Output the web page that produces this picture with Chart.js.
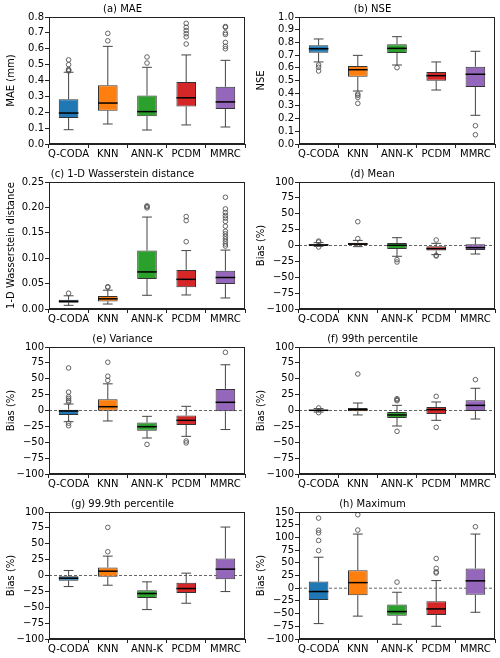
<!DOCTYPE html>
<html>
<head>
<meta charset="utf-8">
<script src="https://cdn.jsdelivr.net/npm/chart.js@4.4.0/dist/chart.umd.min.js"></script>
<style>
  body { margin: 0; background: #fff; width: 500px; height: 658px; overflow: hidden; position: relative; }
  canvas { position: absolute; }
</style>
</head>
<body>
<script>
// methods on the x axis
const methods = ['Q-CODA', 'KNN', 'ANN-K', 'PCDM', 'MMRC'];
const boxColors = ['#1f77b4', '#ff7f0e', '#2ca02c', '#d62728', '#9467bd'];

// box stats per method: [lower whisker, q1, median, q3, upper whisker]
const maeBox = [[0.09, 0.164, 0.195, 0.282, 0.452], [0.126, 0.21, 0.258, 0.37, 0.615], [0.088, 0.175, 0.204, 0.305, 0.483], [0.12, 0.237, 0.291, 0.39, 0.561], [0.107, 0.22, 0.265, 0.36, 0.527]];
const maeOut = [[0.46, 0.465, 0.47, 0.50, 0.53], [0.65, 0.697], [0.51, 0.548], [0.63, 0.675, 0.695, 0.715, 0.735, 0.76], [0.60, 0.615, 0.64, 0.69, 0.70, 0.735, 0.74]];

const nseBox = [[0.646, 0.719, 0.75, 0.777, 0.827], [0.417, 0.53, 0.585, 0.614, 0.698], [0.622, 0.717, 0.753, 0.785, 0.845], [0.425, 0.499, 0.538, 0.567, 0.646], [0.226, 0.449, 0.549, 0.609, 0.73]];
const nseOut = [[0.622, 0.604, 0.575], [0.394, 0.383, 0.367, 0.32], [0.601], [], [0.144, 0.073]];

const wsBox = [[0.0072, 0.0125, 0.015, 0.018, 0.026], [0.0098, 0.015, 0.020, 0.0256, 0.037], [0.027, 0.059, 0.073, 0.115, 0.181], [0.0276, 0.043, 0.0584, 0.077, 0.115], [0.0217, 0.049, 0.062, 0.0755, 0.116]];
const wsOut = [[0.031], [0.0427, 0.044], [0.199, 0.2015, 0.203], [0.1325, 0.174, 0.182], [0.124, 0.128, 0.133, 0.138, 0.143, 0.148, 0.153, 0.163, 0.1725, 0.179, 0.184, 0.19, 0.197, 0.22]];

const meanBox = [[-1.3, -0.3, 0.8, 1.8, 4.5], [-1.8, 0.8, 2.4, 4.5, 8], [-17, -5.5, 0.3, 3.9, 12.3], [-14.4, -8, -5, -1.3, 3.4], [-13.4, -7, -3.4, 1.8, 11.8]];
const meanOut = [[7, 5.5, -2.4], [10.8, 37.5], [-22.3, -26], [8.7, -15.5, -16.5], []];

const varBox = [[-17.6, -7, -0.8, 1.3, 10.2], [-16.5, -0.3, 6, 17.6, 42], [-43.3, -31.8, -25.5, -19, -9.2], [-40.7, -22.8, -15.5, -8, 6.6], [-30, -1.3, 12.9, 34, 72]];
const varOut = [[67, 29, 21.8, 19, 16, 13.4, -20, -24], [54, 47.5, 76], [-53.3], [-48, -51], [91.6]];

const p99Box = [[-2.4, -0.8, 0.3, 1.3, 3], [-7, -1.3, 1.3, 3.9, 11.8], [-24.4, -11.8, -7, -2.4, 8.1], [-15.5, -5.5, 1.3, 5.5, 13.4], [-13.4, -0.8, 8.1, 16, 35]];
const p99Out = [[4, -3.4], [57.5], [15.5, 17, 18.6, -32.8], [22.3, -26.5], [48.6]];

const p999Box = [[-17.4, -8.4, -4.2, -1, 7.9], [-15.3, -2.1, 6.8, 12.6, 30.5], [-53.7, -35.3, -28.4, -23.2, -10], [-43.7, -27.4, -20.5, -11.6, 3.7], [-25.3, -5.8, 10, 26.8, 76.3]];
const p999Out = [[], [37.4, 75.8], [], [], []];

const maxBox = [[-69.7, -23, -6.6, 13, 61], [-55, -14, 11, 35.5, 106.6], [-71, -54, -46, -32, -8], [-75, -53, -40.8, -25.7, 15], [-47.4, -13, 14.5, 38.8, 106.6]];
const maxOut = [[74, 94, 109, 114, 138], [114.5, 144.7], [12], [30, 32, 39, 58.5], [121]];

// panel setup
const panels = [
  { title: '(a) MAE', ylabel: 'MAE (mm)', box: maeBox, out: maeOut, min: 0, max: 0.8, step: 0.1, dec: 1, zero: false },
  { title: '(b) NSE', ylabel: 'NSE', box: nseBox, out: nseOut, min: 0, max: 1, step: 0.1, dec: 1, zero: false },
  { title: '(c) 1-D Wasserstein distance', ylabel: '1-D Wasserstein distance', box: wsBox, out: wsOut, min: 0, max: 0.25, step: 0.05, dec: 2, zero: false },
  { title: '(d) Mean', ylabel: 'Bias (%)', box: meanBox, out: meanOut, min: -100, max: 100, step: 25, dec: 0, zero: true },
  { title: '(e) Variance', ylabel: 'Bias (%)', box: varBox, out: varOut, min: -100, max: 100, step: 25, dec: 0, zero: true },
  { title: '(f) 99th percentile', ylabel: 'Bias (%)', box: p99Box, out: p99Out, min: -100, max: 100, step: 25, dec: 0, zero: true },
  { title: '(g) 99.9th percentile', ylabel: 'Bias (%)', box: p999Box, out: p999Out, min: -100, max: 100, step: 25, dec: 0, zero: true },
  { title: '(h) Maximum', ylabel: 'Bias (%)', box: maxBox, out: maxOut, min: -100, max: 150, step: 25, dec: 0, zero: true }
];

Chart.defaults.font.family = 'DejaVu Sans';
Chart.defaults.font.size = 10;
Chart.defaults.color = '#000';

// whiskers, caps, medians, zero line and frame
const boxExtras = {
  id: 'boxExtras',
  beforeDatasetsDraw(chart, args, opts) {
    const ctx = chart.ctx;
    const x = chart.scales.x, y = chart.scales.y;
    const area = chart.chartArea;
    if (opts.zero) {
      ctx.save();
      ctx.strokeStyle = '#666';
      ctx.lineWidth = 1;
      ctx.setLineDash([3, 2]);
      ctx.beginPath();
      ctx.moveTo(area.left, y.getPixelForValue(0));
      ctx.lineTo(area.right, y.getPixelForValue(0));
      ctx.stroke();
      ctx.restore();
    }
    const bars = chart.getDatasetMeta(0).data;
    ctx.save();
    ctx.strokeStyle = '#444';
    ctx.lineWidth = 1;
    opts.box.forEach((s, i) => {
      const cx = x.getPixelForValue(i);
      const half = bars[i].width / 4;
      ctx.beginPath();
      ctx.moveTo(cx, y.getPixelForValue(s[0]));
      ctx.lineTo(cx, y.getPixelForValue(s[1]));
      ctx.moveTo(cx, y.getPixelForValue(s[3]));
      ctx.lineTo(cx, y.getPixelForValue(s[4]));
      ctx.moveTo(cx - half, y.getPixelForValue(s[0]));
      ctx.lineTo(cx + half, y.getPixelForValue(s[0]));
      ctx.moveTo(cx - half, y.getPixelForValue(s[4]));
      ctx.lineTo(cx + half, y.getPixelForValue(s[4]));
      ctx.stroke();
    });
    ctx.restore();
  },
  afterDatasetsDraw(chart, args, opts) {
    const ctx = chart.ctx;
    const x = chart.scales.x, y = chart.scales.y;
    const bars = chart.getDatasetMeta(0).data;
    ctx.save();
    ctx.strokeStyle = '#000';
    ctx.lineWidth = 1.5;
    opts.box.forEach((s, i) => {
      const cx = x.getPixelForValue(i);
      const half = bars[i].width / 2;
      const my = y.getPixelForValue(s[2]);
      ctx.beginPath();
      ctx.moveTo(cx - half, my);
      ctx.lineTo(cx + half, my);
      ctx.stroke();
    });
    const a = chart.chartArea;
    ctx.strokeStyle = '#222';
    ctx.lineWidth = 1;
    ctx.strokeRect(a.left + 0.5, a.top + 0.5, a.right - a.left - 1, a.bottom - a.top - 1);
    ctx.restore();
  }
};

function fmt(v, dec) {
  const s = Math.abs(v).toFixed(dec);
  return (v < -1e-9 ? '\u2212' : '') + s;
}

panels.forEach((p, k) => {
  const col = k % 2, row = Math.floor(k / 2);
  const cv = document.createElement('canvas');
  cv.width = 250;
  cv.height = 165;
  cv.style.left = (col * 250) + 'px';
  cv.style.top = (row * 165) + 'px';
  document.body.appendChild(cv);

  const outliers = [];
  p.out.forEach((vals, i) => vals.forEach(v => outliers.push({ x: methods[i], y: v })));

  new Chart(cv, {
    type: 'bar',
    data: {
      labels: methods,
      datasets: [
        {
          data: p.box.map(s => [s[1], s[3]]),
          backgroundColor: boxColors,
          borderColor: '#333',
          borderWidth: 1,
          borderSkipped: false,
          barPercentage: 0.5,
          categoryPercentage: 1
        },
        {
          type: 'line',
          data: outliers,
          showLine: false,
          pointRadius: 2.3,
          pointBackgroundColor: 'rgba(255,255,255,0)',
          pointBorderColor: '#555',
          pointBorderWidth: 0.9
        }
      ]
    },
    options: {
      responsive: false,
      animation: false,
      devicePixelRatio: 1,
      layout: { padding: { left: 0, right: 5, top: 0, bottom: 0 } },
      plugins: {
        legend: { display: false },
        tooltip: { enabled: false },
        title: {
          display: true,
          text: p.title,
          font: { size: 10, weight: 'normal' },
          color: '#000',
          padding: { top: 3, bottom: 2 }
        },
        boxExtras: { box: p.box, zero: p.zero }
      },
      scales: {
        x: {
          grid: { display: true, drawOnChartArea: false, tickLength: 4, color: '#222' },
          border: { display: true, color: '#222' },
          ticks: { maxRotation: 0, autoSkip: false, padding: 0, color: '#000' },
          afterFit(scale) { scale.height = 21; }
        },
        y: {
          min: p.min,
          max: p.max,
          grid: { display: true, drawOnChartArea: false, tickLength: 4, color: '#222' },
          border: { display: true, color: '#222' },
          ticks: {
            stepSize: p.step,
            autoSkip: false,
            padding: 1,
            color: '#000',
            callback: v => fmt(v, p.dec)
          },
          title: { display: true, text: p.ylabel, font: { size: 10 }, color: '#000', padding: { top: 5, bottom: 0 } },
          afterFit(scale) { scale.width = 49; }
        }
      }
    },
    plugins: [boxExtras]
  });
});
</script>
</body>
</html>
